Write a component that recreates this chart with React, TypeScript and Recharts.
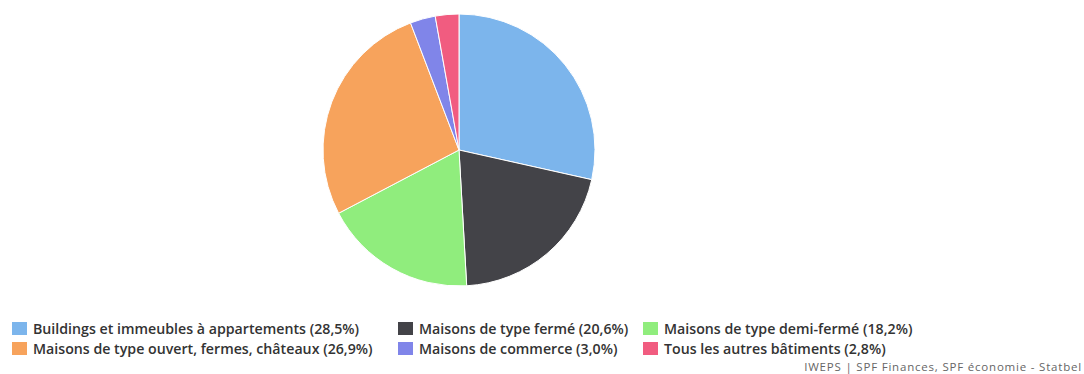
import { PieChart, Pie, Cell } from "recharts";

const labels = [
  "Buildings et immeubles à appartements",
  "Maisons de type fermé",
  "Maisons de type demi-fermé",
  "Maisons de type ouvert, fermes, châteaux",
  "Maisons de commerce",
  "Tous les autres bâtiments",
];
const shares = [28.5, 20.6, 18.2, 26.9, 3.0, 2.8];
const colors = ["#7cb5ec", "#434348", "#90ed7d", "#f7a35c", "#8085e9", "#f15c80"];
const credit = "IWEPS | SPF Finances, SPF économie - Statbel";

const data = labels.map((name, i) => ({ name, value: shares[i] }));

// legend is laid out in 3 columns, 2 rows (row-major)
const legendCols = [12, 398, 643];
const legendRows = [321, 341];

const fmt = (v: number) => v.toFixed(1).replace(".", ",");

export default function App() {
  return (
    <div
      style={{
        position: "absolute",
        left: 0,
        top: 0,
        width: 1084,
        height: 374,
        background: "#fff",
        fontFamily: "'Open Sans', sans-serif",
      }}
    >
      <PieChart width={1084} height={300} margin={{ top: 0, right: 0, bottom: 0, left: 0 }}>
        <Pie
          data={data}
          dataKey="value"
          cx={459}
          cy={150}
          outerRadius={136}
          startAngle={90}
          endAngle={-270}
          stroke="#fff"
          strokeWidth={1}
          isAnimationActive={false}
        >
          {data.map((d, i) => (
            <Cell key={d.name} fill={colors[i]} />
          ))}
        </Pie>
      </PieChart>
      {data.map((d, i) => (
        <div
          key={d.name}
          style={{
            position: "absolute",
            left: legendCols[i % 3],
            top: legendRows[Math.floor(i / 3)],
            display: "flex",
            alignItems: "center",
            height: 15,
            lineHeight: "15px",
            fontSize: 14.2,
            fontWeight: 600,
            color: "#333",
            whiteSpace: "nowrap",
          }}
        >
          <span
            style={{
              display: "inline-block",
              width: 15,
              height: 13,
              background: colors[i],
              marginRight: 6,
            }}
          />
          {d.name} ({fmt(d.value)}%)
        </div>
      ))}
      <div
        style={{
          position: "absolute",
          right: 2,
          top: 359.5,
          fontSize: 11.5,
          lineHeight: "13px",
          letterSpacing: 0.8,
          color: "#666",
          whiteSpace: "nowrap",
        }}
      >
        {credit}
      </div>
    </div>
  );
}
